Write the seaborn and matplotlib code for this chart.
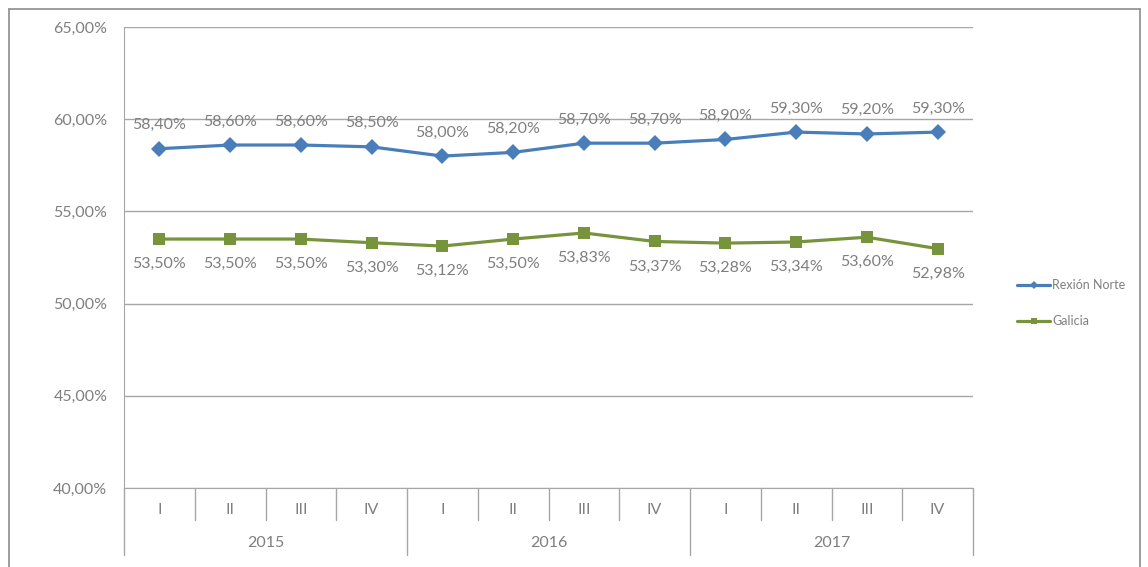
import pandas as pd
import matplotlib.pyplot as plt
import seaborn as sns
from matplotlib.lines import Line2D

# --- DATOS ---
anos = ['2015', '2016', '2017']
trimestres = ['I', 'II', 'III', 'IV']
rexion_norte = [58.40, 58.60, 58.60, 58.50, 58.00, 58.20, 58.70, 58.70, 58.90, 59.30, 59.20, 59.30]
galicia = [53.50, 53.50, 53.50, 53.30, 53.12, 53.50, 53.83, 53.37, 53.28, 53.34, 53.60, 52.98]
series = ['Rexión Norte', 'Galicia']

cores = {'Rexión Norte': '#4a7ebb', 'Galicia': '#77933c'}
marcadores = {'Rexión Norte': 'D', 'Galicia': 's'}
gris = '#7f7f7f'

n = len(rexion_norte)
df = pd.DataFrame({
    'pos': list(range(n)) * 2,
    'valor': rexion_norte + galicia,
    'serie': [series[0]] * n + [series[1]] * n,
})

sns.set_style('white')
plt.rcParams['font.family'] = ['Lato', 'DejaVu Sans']

fig = plt.figure(figsize=(11.48, 5.67), dpi=100)
ax = fig.add_axes([124 / 1148, 1 - 488 / 567, (973 - 124) / 1148, (488 - 27) / 567])

sns.lineplot(data=df, x='pos', y='valor', hue='serie', style='serie',
             markers=marcadores, dashes=False, palette=cores, linewidth=2.3,
             markersize=8, markeredgewidth=0, legend=False, ax=ax)

# etiquetas de datos
fs = 11.5
for i, v in enumerate(rexion_norte):
    ax.annotate(f'{v:.2f}%'.replace('.', ','), (i, v), xytext=(0, 17), textcoords='offset points',
                ha='center', va='center', fontsize=fs, color=gris)
for i, v in enumerate(galicia):
    ax.annotate(f'{v:.2f}%'.replace('.', ','), (i, v), xytext=(0, -18), textcoords='offset points',
                ha='center', va='center', fontsize=fs, color=gris)

# ejes
ax.set_xlim(-0.5, n - 0.5)
ax.set_ylim(40, 65)
ax.set_yticks([40, 45, 50, 55, 60, 65])
ax.set_yticklabels([f'{t:.2f}%'.replace('.', ',') for t in [40, 45, 50, 55, 60, 65]])
ax.tick_params(axis='y', length=5, color='#a6a6a6', labelsize=fs, labelcolor=gris, pad=7)
ax.set_xticks([])
ax.set_xlabel('')
ax.set_ylabel('')
ax.yaxis.grid(True, color='#a6a6a6', linewidth=1)
for s in ['top', 'right']:
    ax.spines[s].set_visible(False)
ax.spines['left'].set_color('#a6a6a6')
ax.spines['bottom'].set_color('#a6a6a6')

# eje de categorias en dos niveles
tr = ax.get_xaxis_transform()
px = 1 / (488 - 27)
for k in range(n):
    ax.text(k, -22 * px, trimestres[k % 4], transform=tr, ha='center', va='center',
            fontsize=fs, color=gris)
for k in range(n + 1):
    x = k - 0.5
    bajo = 67 if k % 4 == 0 else 32
    ax.plot([x, x], [0, -bajo * px], transform=tr, color='#a6a6a6', lw=1, clip_on=False)
for j, a in enumerate(anos):
    ax.text(4 * j + 1.5, -55 * px, a, transform=tr, ha='center', va='center',
            fontsize=fs, color=gris)

# leyenda
handles = [Line2D([], [], color=cores[s], marker=marcadores[s], markersize=4.5,
                  markeredgewidth=0, lw=2.3) for s in series]
fig.legend(handles, series, loc='center left', bbox_to_anchor=(1006 / 1148, 1 - 303 / 567),
           frameon=False, fontsize=9, labelcolor=gris, handlelength=2.6, handletextpad=0.2,
           labelspacing=1.9)

# marco exterior
for xs, ys in [([9, 9], [9, 567]), ([9, 1140], [9, 9]), ([1140, 1140], [9, 567])]:
    fig.add_artist(Line2D([x / 1148 for x in xs], [1 - y / 567 for y in ys],
                          color='#8c8c8c', lw=1.2))

fig.savefig('out.png', dpi=100)
